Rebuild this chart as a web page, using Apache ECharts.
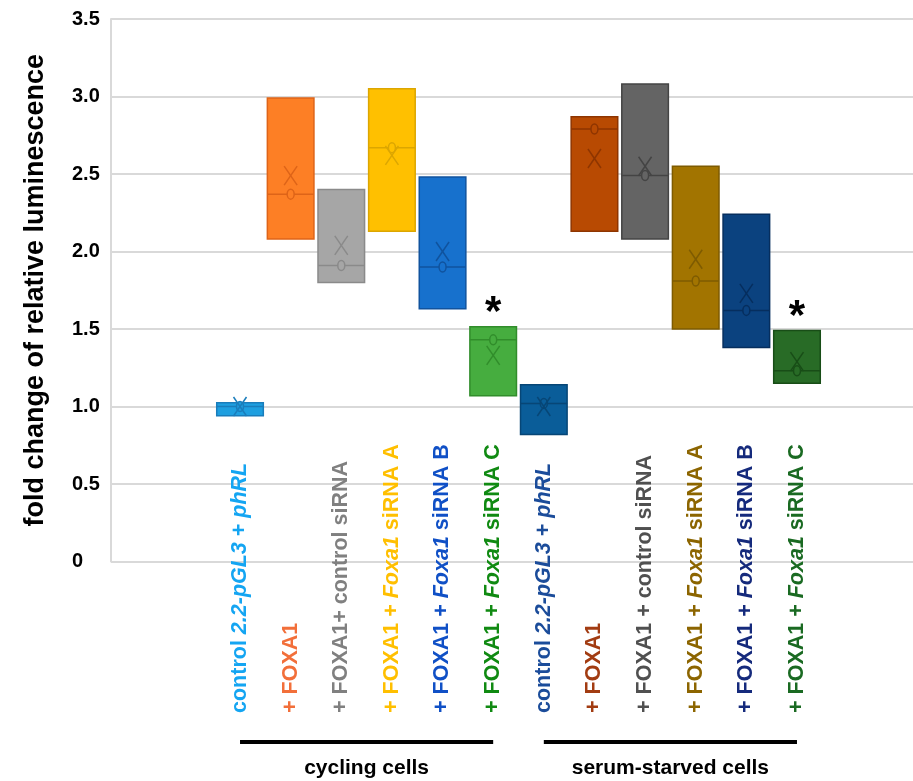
<!DOCTYPE html>
<html>
<head>
<meta charset="utf-8">
<script src="https://cdn.jsdelivr.net/npm/echarts@6/dist/echarts.min.js"></script>
<style>
  html, body { margin: 0; padding: 0; background: #ffffff; }
  #chart { width: 913px; height: 781px; }
</style>
</head>
<body>
<div id="chart"></div>
<script>
// Conditions, in plotting order
const categories = [
  'control 2.2-pGL3 + phRL',
  '+ FOXA1',
  '+ FOXA1+ control siRNA',
  '+ FOXA1 + Foxa1 siRNA A',
  '+ FOXA1 + Foxa1 siRNA B',
  '+ FOXA1 + Foxa1 siRNA C',
  'control 2.2-pGL3 + phRL',
  '+ FOXA1',
  '+ FOXA1 + control siRNA',
  '+ FOXA1 + Foxa1 siRNA A',
  '+ FOXA1 + Foxa1 siRNA B',
  '+ FOXA1 + Foxa1 siRNA C'
];
// Words set in italics inside the condition names
const italicWords = ['2.2-pGL3', 'phRL', 'Foxa1'];

// Box statistics: lower quartile, median, upper quartile, mean
const q1Values     = [0.94, 2.08, 1.80, 2.13, 1.63, 1.07, 0.82, 2.13, 2.08, 1.50, 1.38, 1.15];
const medianValues = [1.00, 2.37, 1.91, 2.67, 1.90, 1.43, 1.02, 2.79, 2.49, 1.81, 1.62, 1.23];
const q3Values     = [1.025, 2.99, 2.40, 3.05, 2.48, 1.515, 1.14, 2.87, 3.08, 2.55, 2.24, 1.49];
const meanValues   = [1.00, 2.49, 2.04, 2.62, 2.00, 1.33, 1.00, 2.60, 2.55, 1.95, 1.73, 1.29];
const significant  = [false, false, false, false, false, true, false, false, false, false, false, true];

// Value axis
const yMin = 0, yMax = 3.5, yStep = 0.5;
const yTitle = 'fold change of relative luminescence';

// Condition groups shown under the labels
const groups = [
  { name: 'cycling cells', from: 0, to: 5 },
  { name: 'serum-starved cells', from: 6, to: 11 }
];

// Palette
const boxColors   = ['#1e9fe0', '#fd7f25', '#a6a6a6', '#ffc000', '#1771cd', '#46ad3f',
                     '#0a5d99', '#b84a02', '#646464', '#a27400', '#0b427f', '#286b26'];
const edgeColors  = ['#1a7dbb', '#de6418', '#8a8a8a', '#dca600', '#10539e', '#318d2b',
                     '#074676', '#8e3500', '#444444', '#7e5b00', '#062e5e', '#184d17'];
const labelColors = ['#14a5f2', '#f26f3a', '#808080', '#ffbf00', '#1050c6', '#108a12',
                     '#1b4c9a', '#a23c12', '#505050', '#8c6500', '#152a7c', '#1a6a22'];

const FONT = '"Liberation Sans", Arial, Helvetica, sans-serif';

// Rich text styles, one normal/italic pair per condition colour
const rich = {};
labelColors.forEach((c, k) => {
  rich['n' + k] = { color: c, fontWeight: 'bold', fontSize: 21.5, fontFamily: FONT };
  rich['i' + k] = { color: c, fontWeight: 'bold', fontStyle: 'italic', fontSize: 21.5, fontFamily: FONT };
});
const italicRe = new RegExp('(' + italicWords.map(w => w.replace(/[.\-]/g, '\\$&')).join('|') + ')');
function formatCategory(value, idx) {
  return value.split(italicRe).filter(s => s.length)
    .map(s => '{' + (italicWords.includes(s) ? 'i' : 'n') + idx + '|' + s + '}').join('');
}

const boxData = categories.map((_, k) => [k, q1Values[k], medianValues[k], q3Values[k], meanValues[k]]);

const chart = echarts.init(document.getElementById('chart'), null, { renderer: 'canvas' });

const gridTop = 19, gridBottom = 219.5;

chart.setOption({
  animation: false,
  backgroundColor: '#ffffff',
  grid: [
    { left: 111, right: 0, top: gridTop, bottom: gridBottom },
    { left: 214.7, right: 90.7, top: gridTop, bottom: gridBottom }
  ],
  xAxis: [
    { gridIndex: 0, type: 'value', show: false, min: 0, max: 1 },
    {
      gridIndex: 1, type: 'category', data: categories, boundaryGap: true,
      axisLine: { show: false }, axisTick: { show: false }, splitLine: { show: false },
      axisLabel: {
        interval: 0, rotate: 90, align: 'left', verticalAlign: 'middle',
        margin: 151.5, formatter: formatCategory, rich: rich
      }
    }
  ],
  yAxis: [
    {
      gridIndex: 0, type: 'value', min: yMin, max: yMax, interval: yStep,
      name: yTitle, nameLocation: 'middle', nameRotate: 90, nameGap: 62,
      nameTextStyle: { fontSize: 27, fontWeight: 'bold', color: '#000', fontFamily: FONT },
      axisLine: { show: true, lineStyle: { color: '#d9d9d9', width: 2 } },
      axisTick: { show: false },
      splitLine: { show: true, lineStyle: { color: '#d9d9d9', width: 2 } },
      axisLabel: {
        align: 'left', margin: 39, fontSize: 20, fontWeight: 'bold', color: '#000', fontFamily: FONT,
        formatter: v => (v === 0 ? '0' : v.toFixed(1))
      }
    },
    { gridIndex: 1, type: 'value', min: yMin, max: yMax, interval: yStep, show: false }
  ],
  series: [{
    type: 'custom',
    xAxisIndex: 1,
    yAxisIndex: 1,
    data: boxData,
    encode: { x: 0, y: [1, 2, 3, 4] },
    renderItem: function (params, api) {
      const k = api.value(0);
      const x = api.coord([k, 0])[0];
      const w = api.size([1, 0])[0] * 0.92;
      const yQ1 = api.coord([k, api.value(1)])[1];
      const yMed = api.coord([k, api.value(2)])[1];
      const yQ3 = api.coord([k, api.value(3)])[1];
      const yMean = api.coord([k, api.value(4)])[1];
      const fill = boxColors[k], edge = edgeColors[k];
      const children = [
        { type: 'rect', shape: { x: x - w / 2, y: yQ3, width: w, height: yQ1 - yQ3 },
          style: { fill: fill, stroke: edge, lineWidth: 1.5 } },
        { type: 'line', shape: { x1: x - w / 2, y1: yMed, x2: x + w / 2, y2: yMed },
          style: { stroke: edge, lineWidth: 1.5 } },
        { type: 'ellipse', shape: { cx: x, cy: yMed, rx: 3.5, ry: 5 },
          style: { fill: fill, stroke: edge, lineWidth: 1.5 } },
        { type: 'line', shape: { x1: x - 6.5, y1: yMean - 9.5, x2: x + 6.5, y2: yMean + 9.5 },
          style: { stroke: edge, lineWidth: 1.5 } },
        { type: 'line', shape: { x1: x + 6.5, y1: yMean - 9.5, x2: x - 6.5, y2: yMean + 9.5 },
          style: { stroke: edge, lineWidth: 1.5 } }
      ];
      if (significant[k]) {
        children.push({
          type: 'text',
          style: { text: '*', x: x, y: yQ3 - 13, align: 'center', verticalAlign: 'middle',
                   font: 'bold 42px ' + FONT, fill: '#000' }
        });
      }
      return { type: 'group', children: children };
    }
  }]
});

// Group brackets and captions under the condition labels
const graphics = [];
groups.forEach(g => {
  const x1 = chart.convertToPixel({ xAxisIndex: 1 }, g.from);
  const x2 = chart.convertToPixel({ xAxisIndex: 1 }, g.to);
  graphics.push({
    type: 'line', shape: { x1: x1, y1: 742, x2: x2, y2: 742 },
    style: { stroke: '#000', lineWidth: 4 }
  });
  graphics.push({
    type: 'text', x: (x1 + x2) / 2, y: 768,
    style: { text: g.name, align: 'center', verticalAlign: 'middle',
             font: 'bold 21px ' + FONT, fill: '#000' }
  });
});
chart.setOption({ graphic: graphics });
</script>
</body>
</html>
